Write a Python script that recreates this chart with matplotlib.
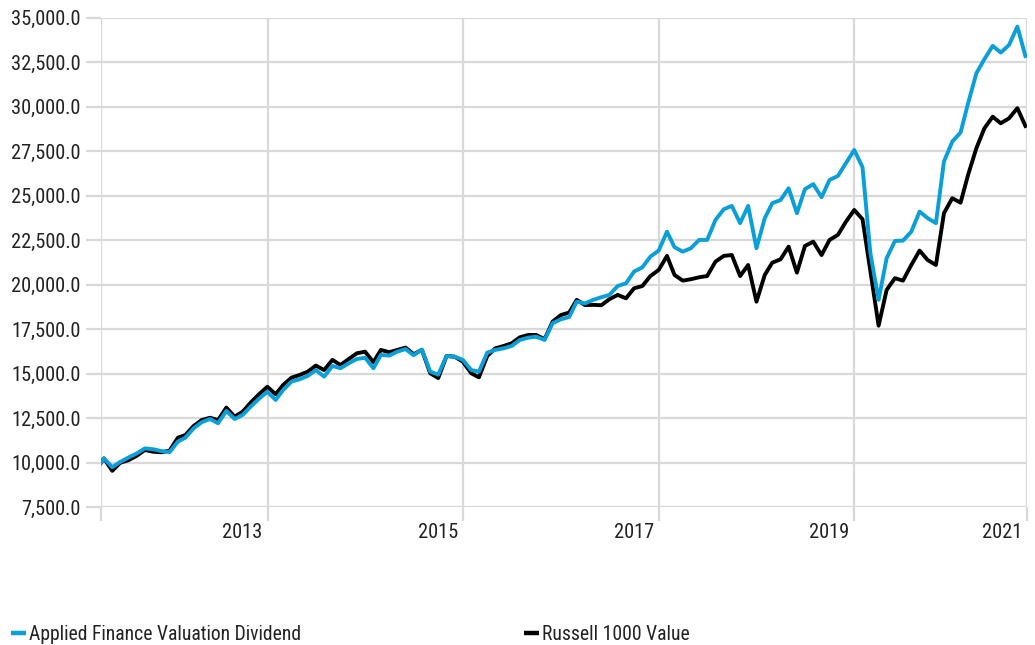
import numpy as np
import pandas as pd
import matplotlib
matplotlib.use("Agg")
import matplotlib.pyplot as plt
from matplotlib import font_manager as fm
from matplotlib.lines import Line2D
from matplotlib.transforms import ScaledTranslation

# growth of 10,000: start value, then month ends Apr 2012 .. Sep 2021
start_date = "2012-04-19"
month_ends = pd.date_range("2012-04-30", "2021-09-30", freq="ME")
dates = pd.DatetimeIndex([pd.Timestamp(start_date)]).append(month_ends)

afv_dividend = [
    10000,
    10250, 9750, 10050, 10300, 10530, 10810, 10760, 10660, 10600, 11190,
    11410, 11940, 12280, 12460, 12220, 12910, 12460, 12690, 13170, 13600,
    13990, 13530, 14090, 14560, 14690, 14880, 15210, 14840, 15440, 15310,
    15590, 15830, 15900, 15310, 16060, 16020, 16240, 16390, 16040, 16360,
    15120, 14950, 16000, 15960, 15780, 15210, 15120, 16190, 16340, 16430,
    16560, 16900, 17030, 17080, 16900, 17840, 18060, 18190, 19050, 18950,
    19150, 19300, 19430, 19930, 20080, 20740, 20980, 21580, 21920, 22980,
    22110, 21860, 22050, 22520, 22520, 23640, 24240, 24430, 23460, 24430,
    22050, 23740, 24580, 24760, 25420, 24020, 25370, 25650, 24920, 25890,
    26110, 26830, 27570, 26600, 21800, 19150, 21490, 22460, 22480, 22980,
    24110, 23740, 23460, 26920, 28040, 28550, 30190, 31880, 32670, 33420,
    33040, 33470, 34500, 32850,
]
russell_1000_value = [
    10000,
    10250, 9550, 10000, 10150, 10400, 10720, 10620, 10590, 10680, 11410,
    11560, 12070, 12400, 12530, 12400, 13100, 12590, 12870, 13400, 13850,
    14270, 13850, 14370, 14780, 14930, 15120, 15460, 15210, 15780, 15490,
    15830, 16150, 16240, 15650, 16340, 16210, 16340, 16470, 16100, 16340,
    15030, 14760, 16000, 15960, 15680, 15030, 14800, 16000, 16430, 16560,
    16710, 17050, 17180, 17180, 16940, 17930, 18300, 18440, 19150, 18860,
    18870, 18850, 19190, 19430, 19240, 19800, 19930, 20490, 20830, 21620,
    20550, 20230, 20310, 20420, 20490, 21300, 21620, 21670, 20490, 21110,
    19050, 20550, 21240, 21430, 22140, 20680, 22180, 22420, 21670, 22520,
    22800, 23540, 24200, 23680, 20800, 17700, 19710, 20370, 20230, 21110,
    21920, 21390, 21110, 24020, 24860, 24610, 26170, 27670, 28790, 29440,
    29070, 29350, 29920, 28920,
]
series_names = ["Applied Finance Valuation Dividend", "Russell 1000 Value"]
year_labels = ["2013", "2015", "2017", "2019", "2021"]
year_ticks = ["2014-01-01", "2016-01-01", "2018-01-01", "2020-01-01"]
y_ticks = np.arange(7500, 35001, 2500)

BLUE = "#0a9fd8"
BLACK = "#000000"
GRID = "#d9d9d9"
TEXT = "#222222"


def narrow_font():
    # the original uses a condensed face; take whatever narrow sans is around
    entries = fm.fontManager.ttflist

    def regular(f):
        return f.style == "normal" and f.weight in (400, "normal", "regular")

    for want in ["Liberation Sans Narrow", "Roboto Condensed", "Open Sans Condensed",
                 "Noto Sans Condensed", "DejaVu Sans Condensed"]:
        for f in entries:
            if f.name == want and regular(f):
                return fm.FontProperties(fname=f.fname)
    for f in entries:
        narrow = f.stretch in ("condensed", "semi-condensed", "extra-condensed") \
            or "Condensed" in f.name or "Narrow" in f.name
        if narrow and regular(f) and "Mono" not in f.name and "Serif" not in f.name:
            return fm.FontProperties(fname=f.fname)
    return fm.FontProperties(family="Roboto")


fig = plt.figure(figsize=(10.35, 6.45), dpi=100)
ax = fig.add_axes([101 / 1035, 1 - 507.3 / 645, 926 / 1035, 489.6 / 645])

# size the font so "35,000.0" is about as wide as in the original (~69 px)
font = narrow_font()
probe = fig.text(0, 0, "35,000.0", fontproperties=font, size=10)
w = probe.get_window_extent(fig.canvas.get_renderer()).width
probe.remove()
fsize = min(15.5, 10 * 69 / w)
font.set_size(fsize)
legend_font = font.copy()
legend_font.set_size(fsize * 0.965)

ax.plot(dates, russell_1000_value, color=BLACK, lw=2.8, zorder=3)
ax.plot(dates, afv_dividend, color=BLUE, lw=2.8, zorder=4)

x_end = dates[-1] + pd.Timedelta(days=6)
ax.set_xlim(dates[0], x_end)
ax.set_ylim(7500, 35000)

xt = [dates[0]] + [pd.Timestamp(d) for d in year_ticks] + [x_end]
ax.set_xticks(xt)
ax.set_xticklabels([""] + year_labels)
ax.set_yticks(y_ticks)
ax.set_yticklabels([f"{v:,.1f}" for v in y_ticks])

ax.grid(True, color=GRID, linewidth=1.6)
ax.set_axisbelow(True)
for s in ax.spines.values():
    s.set_visible(False)

ax.tick_params(axis="x", length=10, width=1.6, color=GRID, pad=1, labelcolor=TEXT)
ax.tick_params(axis="y", length=11, width=1.6, color=GRID, pad=3.5, labelcolor=TEXT)

shift = ScaledTranslation(-5 / 100, 0, fig.dpi_scale_trans)
for lbl in ax.get_xticklabels():
    lbl.set_fontproperties(font)
    lbl.set_horizontalalignment("right")
    lbl.set_transform(lbl.get_transform() + shift)
for lbl in ax.get_yticklabels():
    lbl.set_fontproperties(font)

# legend, two entries on one row
for name, color, xpos in [(series_names[0], BLUE, 11), (series_names[1], BLACK, 524)]:
    h = Line2D([], [], color=color, lw=3.2, solid_capstyle="butt")
    fig.legend([h], [name], loc="center left",
               bbox_to_anchor=(xpos / 1035, 1 - 634 / 645),
               frameon=False, borderpad=0, borderaxespad=0,
               handlelength=0.75, handletextpad=0.15,
               prop=legend_font, labelcolor=TEXT)

fig.savefig("out.png", dpi=100)
